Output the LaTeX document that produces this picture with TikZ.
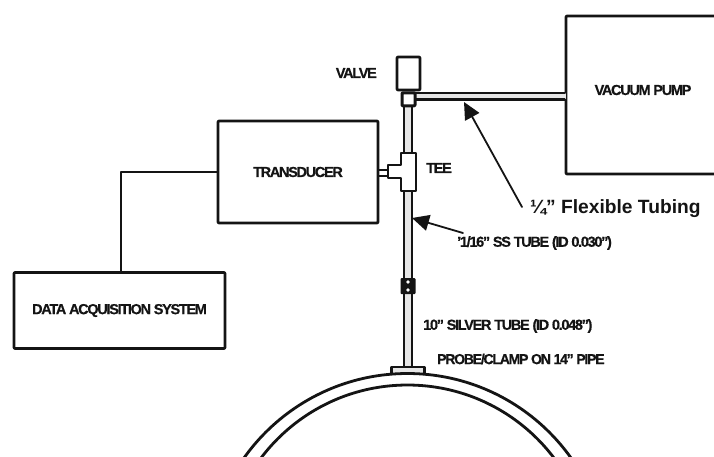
\documentclass[tikz,border=0pt]{standalone}
\usepackage{fontspec}
\setmainfont{Liberation Sans}
\newfontfamily\tightfont[LetterSpace=-9,BoldFeatures={FakeBold=0.5}]{Liberation Sans}
\usetikzlibrary{arrows.meta,positioning}
\definecolor{ScanBlack}{HTML}{141414}
\definecolor{ScanGrey}{HTML}{E6E6E6}
\tikzset{
  unitbox/.style={draw=ScanBlack,line width=2.6pt,rounded corners=0.8pt,inner sep=0pt},
  tag/.style={text=ScanBlack,font=\tightfont\bfseries\fontsize{14.5}{16}\selectfont,inner sep=0pt},
  tubewall/.style={draw=ScanBlack,line width=2.8pt},
  pipewall/.style={draw=ScanBlack,line width=2.8pt},
  lead/.style={-{Triangle[length=17pt,width=16pt]},draw=ScanBlack,line width=1.8pt}
}
\begin{document}
\begin{tikzpicture}[x=1pt,y=-1pt,line cap=round,line join=round]
  \clip (0,0) rectangle (714,456);
  \fill[white] (0,0) rectangle (714,456);
  % boxes
  \node[unitbox,minimum width=160pt,minimum height=102pt,tag] (transducer) at (298,172) {TRANSDUCER};
  \node[unitbox,minimum width=211pt,minimum height=76pt,tag] (daq) at (119.5,310.5) {DATA ACQUISITION SYSTEM};
  \node[unitbox,minimum width=170pt,minimum height=158pt] (pump) at (651,95) {};
  \node[tag] (pumplabel) at (643,90) {VACUUM PUMP};
  \draw[draw=ScanBlack,line width=2.6pt] (transducer.west) -| (daq.north -| 121,0);
  % valve and tubes
  \path[fill=ScanGrey] (404,103) rectangle (412,368);
  \draw[tubewall] (404,103) -- (404,368) (412,103) -- (412,368);
  \path[fill=ScanGrey] (416,93) rectangle (566,99.5);
  \draw[tubewall] (416,93) -- (pump.west |- 0,93) (416,99.5) -- (pump.west |- 0,99.5);
  \node[unitbox,fill=white,minimum width=23pt,minimum height=33pt] (valve) at (408.5,73.5) {};
  \node[unitbox,line width=3pt,fill=white,minimum width=13pt,minimum height=13pt,below=0pt of valve] (port) {};
  % tee
  \draw[tubewall] (transducer.east |- 0,170) -- (390,170) (transducer.east |- 0,176) -- (390,176);
  \path[tubewall,fill=white] (401,153) -- (416,153) -- (416,191) -- (401,191) -- (401,178)
    -- (388,178) -- (388,165) -- (401,165) -- cycle;
  \node[tag,anchor=west] (teelabel) at (426,168) {TEE};
  \node[tag,anchor=east] (valvelabel) at (377,73) {VALVE};
  % coupling
  \node[fill=ScanBlack,rounded corners=1pt,minimum width=15pt,minimum height=16pt,inner sep=0pt] (coupling) at (408,286) {};
  \path[fill=white] (408,282) circle (1.8) (408,290) circle (1.8);
  % pipe
  \node[draw=ScanBlack,line width=2.2pt,fill=ScanGrey,minimum width=33pt,minimum height=7pt,inner sep=0pt] (clamp) at (408,370.5) {};
  \draw[pipewall] (407.5,574) circle (200.5);
  \draw[pipewall] (407.5,568.5) circle (183.5);
  % labels and leaders
  \node[font=\bfseries\fontsize{19.2}{21}\selectfont,text=ScanBlack,anchor=west,inner sep=0pt] (flexlabel) at (530,209) {¼” Flexible Tubing};
  \node[tag,anchor=west] (sslabel) at (457,243) {’1/16” SS TUBE (ID 0.030”)};
  \node[tag,anchor=west] (silverlabel) at (423,326) {10” SILVER TUBE (ID 0.048”)};
  \node[tag,anchor=west,xscale=0.97] (probelabel) at (437,359) {PROBE/CLAMP ON 14” PIPE};
  \coordinate (flextail) at (522,207);
  \coordinate (flextip) at (464,102);
  \coordinate (sstail) at (463,233);
  \coordinate (sstip) at (412,218);
  \draw[lead] (flextail) -- (flextip);
  \draw[lead] (sstail) -- (sstip);
\end{tikzpicture}
\end{document}
